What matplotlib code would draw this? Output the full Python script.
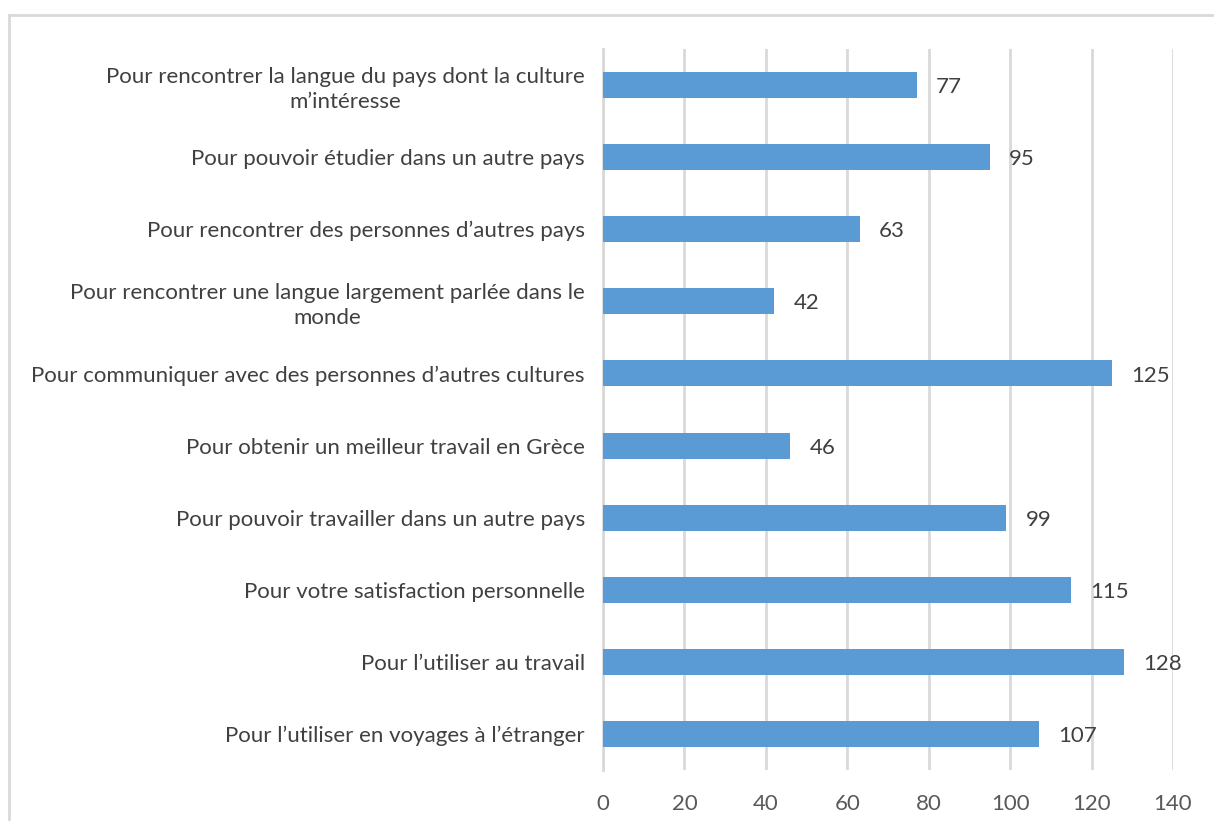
import matplotlib
matplotlib.use("Agg")
import matplotlib.pyplot as plt
from matplotlib.lines import Line2D

categories = [
    "Pour rencontrer la langue du pays dont la culture\nm\u2019int\u00e9resse",
    "Pour pouvoir \u00e9tudier dans un autre pays",
    "Pour rencontrer des personnes d\u2019autres pays",
    "Pour rencontrer une langue largement parl\u00e9e dans le\nmonde",
    "Pour communiquer avec des personnes d\u2019autres cultures",
    "Pour obtenir un meilleur travail en Gr\u00e8ce",
    "Pour pouvoir travailler dans un autre pays",
    "Pour votre satisfaction personnelle",
    "Pour l\u2019utiliser au travail",
    "Pour l\u2019utiliser en voyages \u00e0 l\u2019\u00e9tranger",
]
values = [77, 95, 63, 42, 125, 46, 99, 115, 128, 107]
xticks = [0, 20, 40, 60, 80, 100, 120, 140]

plt.rcParams['font.family'] = ['Lato', 'DejaVu Sans']

W, H = 1214, 821
fig = plt.figure(figsize=(W / 100, H / 100), dpi=100)
ax = fig.add_axes([603 / W, 1 - 770 / H, (1173 - 603) / W, (770 - 49) / H])

ypos = list(range(len(categories)))
ax.barh(ypos, values, height=0.36, color="#5B9BD5", zorder=3)
ax.set_ylim(len(categories) - 0.5, -0.5)
ax.set_xlim(0, 140)
ax.set_xticks(xticks)
ax.set_yticks(ypos)
ax.set_yticklabels(categories, fontsize=16, color="#404040", ha="right",
                   multialignment="center", linespacing=1.3)
ax.tick_params(axis="y", length=0, pad=13)
ax.tick_params(axis="x", length=0, labelsize=16, labelcolor="#595959", pad=17)

ax.grid(axis="x", color="#D9D9D9", linewidth=2, zorder=0)
ax.set_axisbelow(True)
for s in ["top", "right", "bottom"]:
    ax.spines[s].set_visible(False)
ax.spines["left"].set_color("#D9D9D9")
ax.spines["left"].set_linewidth(2)

for y, v in zip(ypos, values):
    ax.annotate(str(v), xy=(v, y), xytext=(14, -1.5), textcoords="offset points",
                va="center", ha="left", fontsize=16, color="#404040")

# outer chart frame (top and left edges visible)
fig.add_artist(Line2D([9 / W, 1.0], [1 - 15 / H, 1 - 15 / H], transform=fig.transFigure,
                      color="#D9D9D9", linewidth=2))
fig.add_artist(Line2D([9 / W, 9 / W], [0, 1 - 15 / H], transform=fig.transFigure,
                      color="#D9D9D9", linewidth=2))

fig.savefig("out.png", dpi=100)
